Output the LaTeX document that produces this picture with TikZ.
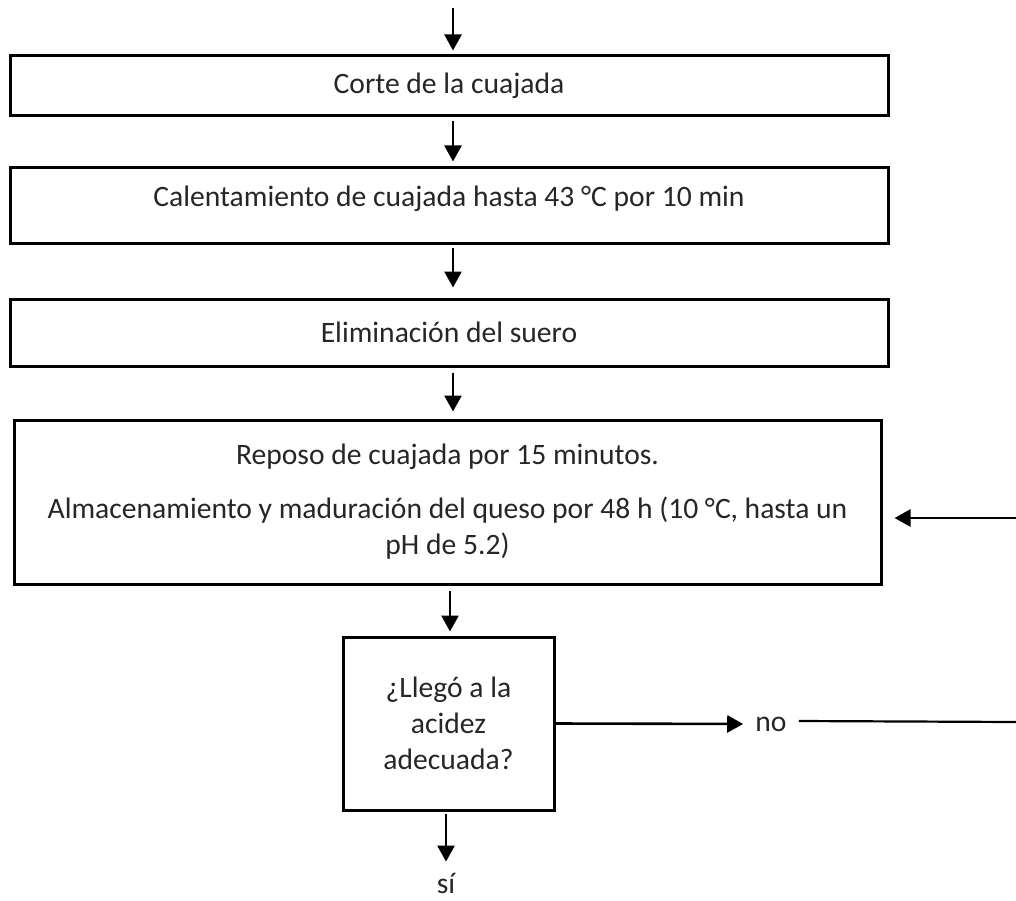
\documentclass[tikz,border=0pt]{standalone}
\usepackage{fontspec}
\setmainfont{Carlito}
\usetikzlibrary{arrows.meta}
\tikzset{
  box/.style={draw=black, line width=3pt, inner sep=0pt, align=center, text=black!85, font=\fontsize{29.6}{36}\selectfont},
  txt/.style={inner sep=0pt, align=center, text=black!85, font=\fontsize{29.6}{36}\selectfont},
  arr/.style={line width=2.6pt, -{Triangle[width=17pt,length=16pt]}},
  plain/.style={line width=2.2pt}
}
\begin{document}
\begin{tikzpicture}[x=1pt,y=-1pt]
\useasboundingbox (0,0) rectangle (1016,901);
\node[box, minimum width=878, minimum height=60] (b1) at (449,86) {Corte de la cuajada};
\node[box, minimum width=878, minimum height=75] (b2) at (449,205.5) {};
\node[txt] (t2) at (449,199) {Calentamiento de cuajada hasta 43 °C por 10 min};
\node[box, minimum width=878, minimum height=67] (b3) at (449,332.5) {Eliminación del suero};
\node[box, minimum width=867, minimum height=164] (b4) at (447.5,502) {Reposo de cuajada por 15 minutos.\\[18pt]Almacenamiento y maduración del queso por 48 h (10 °C, hasta un\\pH de 5.2)};
\node[box, minimum width=211, minimum height=173] (d) at (448.5,723.5) {¿Llegó a la\\acidez\\adecuada?};
\node[txt] (si) at (446,883) {sí};
\node[txt] (no) at (771,724) {no};
\coordinate (top) at (453,8);
\coordinate (xa) at (453,0);
\coordinate (xb) at (450,0);
\coordinate (e1) at (1016,722);
\coordinate (e2) at (1016,518);

\draw[arr, shorten >=4pt] (top) -- (top |- b1.north);
\draw[arr, shorten <=4pt, shorten >=5pt] (xa |- b1.south) -- (xa |- b2.north);
\draw[arr, shorten <=3pt, shorten >=10pt] (xa |- b2.south) -- (xa |- b3.north);
\draw[arr, shorten <=5pt, shorten >=7pt] (xa |- b3.south) -- (xa |- b4.north);
\draw[arr, shorten <=5pt, shorten >=4pt] (xb |- b4.south) -- (xb |- d.north);
\draw[arr, shorten <=2pt, shorten >=11pt] ([xshift=-2.5pt]d.south) -- ([xshift=-2.5pt]d.south |- si.north);
\draw[arr, shorten >=12pt] (d.east) -- (no.west);
\draw[plain] (no.east) ++(12pt,3pt) coordinate (n2) -- (e1);
\draw[arr, shorten >=12pt] (e2) -- (b4.east |- e2);
\end{tikzpicture}
\end{document}
